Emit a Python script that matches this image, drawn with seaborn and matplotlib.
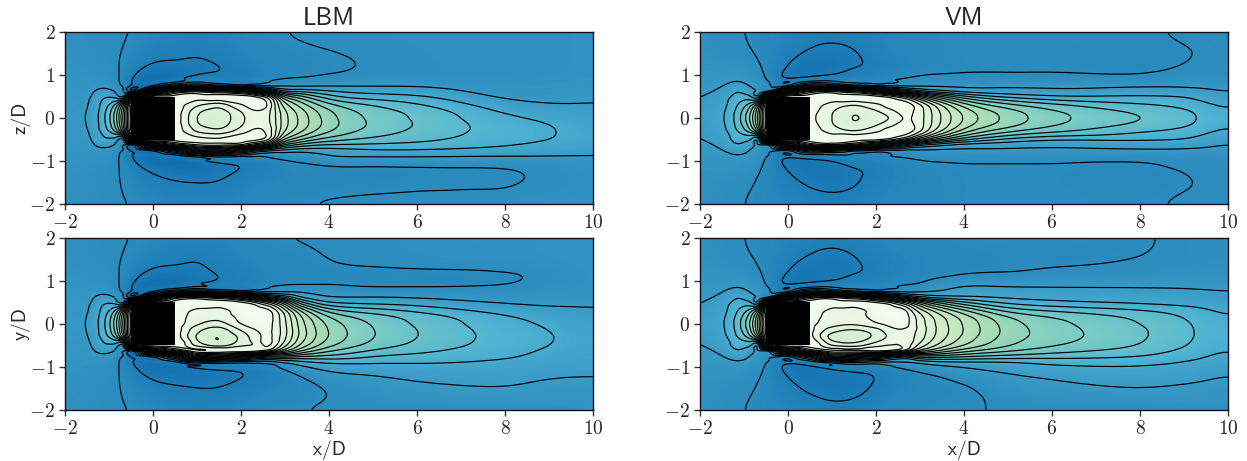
import numpy as np
import matplotlib
matplotlib.use('Agg')
import matplotlib.pyplot as plt
import matplotlib.tri as mtri
import seaborn as sns

# stations and rows the values were read at
x_front = [-2, -1.5, -1.15, -0.85, -0.65, -0.5]
x_wake = [0, 0.5, 1, 1.5, 2, 2.3, 2.6, 3, 3.5, 4, 5, 6, 8, 9, 10]
z_half = [2, 1.4, 1.1, 0.9, 0.75, 0.62, 0.5, 0.3, 0.15, 0]
body = [-0.5, 0.5]
tick_x = [-2, 0, 2, 4, 6, 8, 10]
tick_z = [-2, -1, 0, 1, 2]
levels = np.arange(0.07, 1.5, 0.07)

# upstream columns, mirrored about the centreline
lbm_front = [
    [1.03, 1.02, 1.015, 1.01, 1.005, 1.0, 1.0, 0.998, 0.996, 0.995],
    [1.035, 1.03, 1.02, 1.015, 1.01, 1.005, 1.0, 0.99, 0.983, 0.98],
    [1.04, 1.035, 1.03, 1.02, 0.985, 0.955, 0.925, 0.89, 0.875, 0.87],
    [1.045, 1.045, 1.04, 1.03, 1.01, 0.985, 0.93, 0.75, 0.68, 0.66],
    [1.045, 1.05, 1.05, 1.055, 1.055, 1.05, 0.98, 0.46, 0.38, 0.36],
    [1.05, 1.07, 1.09, 1.12, 1.16, 1.18, 0.3, 0.05, 0.04, 0.04],
]
vm_front = [
    [1.03, 1.02, 1.01, 1.0, 0.995, 0.99, 0.985, 0.98, 0.975, 0.972],
    [1.04, 1.03, 1.01, 1.0, 0.985, 0.97, 0.955, 0.935, 0.925, 0.92],
    [1.045, 1.035, 1.01, 0.985, 0.95, 0.915, 0.88, 0.84, 0.815, 0.805],
    [1.055, 1.04, 1.02, 1.0, 0.985, 0.96, 0.9, 0.72, 0.64, 0.61],
    [1.06, 1.055, 1.04, 1.02, 1.0, 0.985, 0.95, 0.5, 0.37, 0.35],
    [1.065, 1.06, 1.055, 1.04, 1.03, 1.02, 0.3, 0.05, 0.04, 0.04],
]

# wake columns, top of the panel to the bottom
lbm_z = [
    [1.065, 1.11, 1.15, 1.2, 1.12, 0.6, 0.03, 0.02, 0.02, 0.02, 0.02, 0.02, 0.03, 0.5, 1.1, 1.2, 1.15, 1.11, 1.065],
    [1.08, 1.115, 1.14, 1.19, 0.95, 0.25, 0.03, 0.03, 0.03, 0.03, 0.03, 0.03, 0.03, 0.25, 0.85, 1.2, 1.17, 1.125, 1.08],
    [1.085, 1.122, 1.13, 1.1, 0.88, 0.15, 0.05, 0.13, 0.19, 0.21, 0.2, 0.15, 0.05, 0.12, 0.55, 1.12, 1.18, 1.13, 1.085],
    [1.08, 1.11, 1.125, 1.09, 0.96, 0.22, 0.03, 0.18, 0.24, 0.25, 0.24, 0.19, 0.06, 0.1, 0.5, 1.05, 1.13, 1.125, 1.08],
    [1.07, 1.085, 1.105, 1.115, 1.02, 0.3, 0.03, 0.08, 0.14, 0.16, 0.15, 0.11, 0.03, 0.12, 0.65, 1.07, 1.12, 1.1, 1.07],
    [1.06, 1.08, 1.09, 1.085, 1.0, 0.45, 0.06, 0.03, 0.08, 0.1, 0.09, 0.06, 0.04, 0.25, 0.8, 1.06, 1.11, 1.09, 1.06],
    [1.06, 1.07, 1.08, 1.07, 0.99, 0.6, 0.18, 0.07, 0.11, 0.12, 0.11, 0.09, 0.12, 0.38, 0.88, 1.05, 1.1, 1.085, 1.06],
    [1.05, 1.065, 1.07, 1.055, 0.985, 0.85, 0.6, 0.4, 0.345, 0.33, 0.33, 0.36, 0.52, 0.72, 0.93, 1.04, 1.06, 1.075, 1.055],
    [1.04, 1.06, 1.06, 1.05, 0.99, 0.85, 0.72, 0.57, 0.51, 0.49, 0.49, 0.53, 0.68, 0.83, 0.96, 1.03, 1.055, 1.07, 1.05],
    [1.035, 1.055, 1.055, 1.04, 0.985, 0.91, 0.83, 0.69, 0.63, 0.61, 0.605, 0.63, 0.74, 0.84, 0.94, 0.98, 1.055, 1.065, 1.045],
    [1.035, 1.045, 1.045, 1.03, 0.985, 0.935, 0.875, 0.775, 0.735, 0.72, 0.715, 0.73, 0.79, 0.85, 0.915, 0.98, 1.052, 1.062, 1.04],
    [1.03, 1.035, 1.035, 1.03, 0.985, 0.945, 0.9, 0.83, 0.79, 0.78, 0.775, 0.785, 0.82, 0.86, 0.915, 0.98, 1.05, 1.06, 1.035],
    [1.03, 1.03, 1.03, 1.025, 1.02, 1.01, 0.99, 0.95, 0.92, 0.895, 0.88, 0.875, 0.885, 0.905, 0.93, 0.985, 1.045, 1.058, 1.03],
    [1.025, 1.025, 1.025, 1.02, 1.015, 1.01, 1.0, 0.975, 0.95, 0.925, 0.91, 0.905, 0.91, 0.925, 0.945, 0.985, 1.03, 1.04, 1.025],
    [1.02, 1.02, 1.02, 1.015, 1.01, 1.005, 0.992, 0.975, 0.965, 0.95, 0.94, 0.935, 0.935, 0.945, 0.96, 0.985, 1.02, 1.025, 1.02],
]
lbm_y = [
    [1.065, 1.11, 1.155, 1.2, 1.12, 0.6, 0.03, 0.02, 0.02, 0.02, 0.02, 0.02, 0.03, 0.5, 1.1, 1.18, 1.15, 1.11, 1.065],
    [1.08, 1.115, 1.15, 1.2, 0.95, 0.2, 0.03, 0.03, 0.03, 0.03, 0.03, 0.03, 0.03, 0.25, 0.85, 1.16, 1.16, 1.12, 1.08],
    [1.09, 1.125, 1.135, 1.15, 0.85, 0.12, 0.03, 0.09, 0.11, 0.13, 0.19, 0.22, 0.16, 0.06, 0.4, 1.05, 1.15, 1.125, 1.09],
    [1.08, 1.105, 1.12, 1.1, 0.95, 0.2, 0.03, 0.12, 0.12, 0.17, 0.25, 0.28, 0.24, 0.05, 0.45, 1.03, 1.13, 1.125, 1.08],
    [1.07, 1.09, 1.105, 1.11, 1.01, 0.35, 0.05, 0.03, 0.05, 0.07, 0.14, 0.19, 0.16, 0.06, 0.55, 1.05, 1.12, 1.11, 1.07],
    [1.06, 1.08, 1.09, 1.08, 1.0, 0.5, 0.12, 0.02, 0.02, 0.03, 0.08, 0.11, 0.14, 0.08, 0.65, 1.04, 1.11, 1.1, 1.06],
    [1.055, 1.075, 1.085, 1.07, 0.99, 0.65, 0.25, 0.04, 0.03, 0.04, 0.05, 0.05, 0.06, 0.15, 0.72, 1.03, 1.095, 1.09, 1.055],
    [1.05, 1.07, 1.075, 1.06, 0.98, 0.78, 0.48, 0.24, 0.2, 0.19, 0.18, 0.19, 0.26, 0.4, 0.72, 0.98, 1.065, 1.075, 1.05],
    [1.045, 1.065, 1.07, 1.055, 0.995, 0.97, 0.86, 0.6, 0.5, 0.475, 0.46, 0.46, 0.52, 0.62, 0.78, 0.92, 1.02, 1.06, 1.05],
    [1.04, 1.052, 1.065, 1.055, 0.995, 0.98, 0.91, 0.74, 0.64, 0.59, 0.575, 0.575, 0.62, 0.69, 0.78, 0.9, 0.975, 1.04, 1.045],
    [1.035, 1.045, 1.065, 1.06, 1.03, 0.975, 0.93, 0.8, 0.73, 0.71, 0.7, 0.7, 0.73, 0.78, 0.84, 0.905, 0.96, 1.01, 1.04],
    [1.03, 1.04, 1.065, 1.06, 1.03, 0.985, 0.945, 0.85, 0.795, 0.78, 0.77, 0.77, 0.79, 0.82, 0.86, 0.905, 0.955, 0.985, 1.04],
    [1.025, 1.03, 1.06, 1.05, 1.03, 1.01, 0.985, 0.935, 0.9, 0.885, 0.875, 0.87, 0.875, 0.885, 0.9, 0.925, 0.955, 0.975, 1.03],
    [1.02, 1.025, 1.04, 1.032, 1.02, 1.01, 0.995, 0.96, 0.935, 0.92, 0.91, 0.905, 0.91, 0.92, 0.93, 0.945, 0.965, 0.99, 1.025],
    [1.02, 1.02, 1.02, 1.02, 1.01, 1.0, 0.99, 0.975, 0.965, 0.955, 0.95, 0.945, 0.945, 0.95, 0.955, 0.96, 0.97, 0.995, 1.02],
]
# VM in the z plane is symmetric, so only its upper half is kept
vm_z_half = [
    [1.08, 1.11, 1.135, 1.15, 1.05, 0.5, 0.02, 0.02, 0.02, 0.02],
    [1.095, 1.135, 1.16, 1.125, 0.8, 0.2, 0.02, 0.03, 0.04, 0.05],
    [1.1, 1.145, 1.14, 1.09, 0.85, 0.12, 0.04, 0.1, 0.135, 0.14],
    [1.095, 1.13, 1.11, 1.07, 0.95, 0.22, 0.03, 0.14, 0.2, 0.213],
    [1.08, 1.1, 1.11, 1.06, 1.0, 0.4, 0.04, 0.09, 0.15, 0.17],
    [1.075, 1.085, 1.09, 1.055, 1.0, 0.55, 0.09, 0.04, 0.1, 0.14],
    [1.07, 1.08, 1.08, 1.05, 0.99, 0.68, 0.2, 0.02, 0.05, 0.07],
    [1.065, 1.07, 1.06, 1.04, 0.99, 0.82, 0.42, 0.12, 0.1, 0.1],
    [1.06, 1.06, 1.055, 1.04, 0.99, 0.9, 0.65, 0.37, 0.31, 0.3],
    [1.055, 1.055, 1.052, 1.04, 0.99, 0.94, 0.76, 0.54, 0.46, 0.44],
    [1.05, 1.055, 1.052, 1.04, 0.99, 0.955, 0.86, 0.68, 0.6, 0.585],
    [1.052, 1.055, 1.052, 1.04, 0.99, 0.97, 0.9, 0.75, 0.69, 0.675],
    [1.055, 1.06, 1.055, 1.04, 0.985, 0.955, 0.9, 0.83, 0.785, 0.77],
    [1.045, 1.052, 1.045, 1.03, 0.985, 0.96, 0.91, 0.86, 0.82, 0.81],
    [1.04, 1.04, 1.035, 1.03, 1.0, 0.985, 0.975, 0.94, 0.925, 0.92],
]
vm_y = [
    [1.08, 1.11, 1.135, 1.15, 1.05, 0.5, 0.02, 0.02, 0.02, 0.02, 0.02, 0.02, 0.02, 0.5, 1.05, 1.15, 1.135, 1.11, 1.08],
    [1.095, 1.135, 1.155, 1.12, 0.8, 0.2, 0.02, 0.03, 0.04, 0.05, 0.05, 0.05, 0.03, 0.2, 0.8, 1.12, 1.155, 1.135, 1.095],
    [1.105, 1.145, 1.14, 1.09, 0.85, 0.12, 0.05, 0.09, 0.1, 0.11, 0.18, 0.24, 0.14, 0.06, 0.45, 1.05, 1.135, 1.145, 1.105],
    [1.095, 1.13, 1.11, 1.07, 0.95, 0.22, 0.04, 0.12, 0.1, 0.13, 0.22, 0.26, 0.17, 0.05, 0.5, 1.0, 1.12, 1.14, 1.1],
    [1.08, 1.1, 1.11, 1.07, 1.0, 0.4, 0.06, 0.04, 0.05, 0.08, 0.17, 0.19, 0.1, 0.03, 0.6, 1.02, 1.11, 1.115, 1.08],
    [1.075, 1.09, 1.09, 1.06, 0.99, 0.55, 0.12, 0.02, 0.03, 0.05, 0.1, 0.13, 0.07, 0.05, 0.72, 1.0, 1.09, 1.09, 1.07],
    [1.07, 1.085, 1.08, 1.055, 0.99, 0.68, 0.25, 0.03, 0.02, 0.03, 0.08, 0.1, 0.08, 0.12, 0.8, 0.99, 1.07, 1.08, 1.07],
    [1.065, 1.08, 1.07, 1.05, 0.985, 0.82, 0.48, 0.24, 0.18, 0.17, 0.16, 0.17, 0.24, 0.38, 0.72, 0.97, 1.05, 1.07, 1.06],
    [1.06, 1.07, 1.06, 1.0, 0.97, 0.9, 0.68, 0.42, 0.35, 0.335, 0.33, 0.34, 0.4, 0.52, 0.72, 0.93, 1.03, 1.06, 1.055],
    [1.055, 1.065, 1.045, 0.98, 0.95, 0.89, 0.76, 0.54, 0.45, 0.43, 0.425, 0.44, 0.5, 0.6, 0.76, 0.93, 1.0, 1.052, 1.05],
    [1.05, 1.06, 1.04, 0.985, 0.96, 0.92, 0.86, 0.72, 0.63, 0.6, 0.59, 0.595, 0.63, 0.69, 0.79, 0.92, 0.97, 1.01, 1.05],
    [1.05, 1.055, 1.03, 0.985, 0.965, 0.935, 0.89, 0.77, 0.7, 0.675, 0.665, 0.665, 0.695, 0.74, 0.81, 0.89, 0.955, 0.99, 1.048],
    [1.055, 1.045, 1.025, 0.985, 0.97, 0.95, 0.92, 0.83, 0.785, 0.77, 0.76, 0.76, 0.775, 0.8, 0.84, 0.89, 0.935, 0.97, 1.04],
    [1.04, 1.035, 1.02, 0.985, 0.975, 0.955, 0.935, 0.87, 0.84, 0.825, 0.82, 0.82, 0.835, 0.855, 0.88, 0.915, 0.95, 0.98, 1.035],
    [1.035, 1.03, 1.015, 0.99, 0.98, 0.97, 0.96, 0.935, 0.925, 0.915, 0.91, 0.91, 0.915, 0.925, 0.94, 0.955, 0.975, 0.995, 1.03],
]

sns.set_style('ticks')
plt.rcParams['font.family'] = ['cmss10', 'DejaVu Sans']
plt.rcParams['mathtext.fontset'] = 'cm'
plt.rcParams['axes.unicode_minus'] = False
cmap = sns.color_palette('GnBu', as_cmap=True)


def mirror(half):
    half = np.array(half)
    return np.hstack([half, half[:, -2::-1]])


def blur_axis(a, sigma, axis):
    # gaussian along one axis, sigma in grid cells, edges reflected
    r = int(3 * sigma) + 1
    k = np.exp(-0.5 * (np.arange(-r, r + 1) / sigma) ** 2)
    k = k / k.sum()
    return np.apply_along_axis(lambda m: np.convolve(np.pad(m, r, mode='reflect'), k, mode='valid'), axis, a)


def blur(a, sx, sz, dx, dz):
    return blur_axis(blur_axis(a, sx / dx, 1), sz / dz, 0)


def draw_panel(ax, front, wake):
    z = np.r_[z_half, -np.array(z_half[-2::-1])]
    field = np.vstack([mirror(front), wake])
    xx, zz = np.meshgrid(x_front + x_wake, z, indexing='ij')
    tri = mtri.Triangulation(xx.ravel(), zz.ravel())
    smooth = mtri.CubicTriInterpolator(tri, field.ravel(), kind='geom')
    xs = np.linspace(-2, 10, 720)
    zs = np.linspace(-2, 2, 320)
    dx, dz = xs[1] - xs[0], zs[1] - zs[0]
    xf, zf = np.meshgrid(xs, zs)
    raw = np.ma.filled(smooth(xf, zf), 0.0)
    # the table is coarse: soften it most where the field is gentle
    speed = blur(raw, 0.05, 0.03, dx, dz)
    far = blur(raw, 0.2, 0.1, dx, dz)
    along = blur(raw, 0.35, 0.04, dx, dz)
    wide = blur(raw, 0.3, 0.2, dx, dz)
    w_wake = np.clip((xf - 2.8) / 0.8, 0, 1)
    w_far = np.clip((wide - 0.93) / 0.08, 0, 1)
    speed = (1 - w_wake) * speed + w_wake * along
    speed = (1 - w_far) * speed + w_far * far
    ax.pcolormesh(xf, zf, speed, cmap=cmap, vmin=0, vmax=1.4, shading='gouraud', rasterized=True)
    ax.contour(xf, zf, speed, levels=levels, colors='black', linewidths=0.85)
    ax.fill_between(body, body[0], body[1], color='black', lw=0, zorder=3)
    ax.set_xlim(-2, 10)
    ax.set_ylim(-2, 2)
    ax.set_xticks(tick_x)
    ax.set_yticks(tick_z)
    ax.set_xticklabels([f'${t}$' for t in tick_x], fontsize=14)
    ax.set_yticklabels([f'${t}$' for t in tick_z], fontsize=14)
    ax.tick_params(length=4, width=1, color='#333333', pad=3)
    for spine in ax.spines.values():
        spine.set_linewidth(1.0)
        spine.set_color('#111111')


fig = plt.figure(figsize=(12.47, 4.61), dpi=100)
left = [65 / 1247, 700 / 1247]
bottom = [1 - 204 / 461, 1 - 410 / 461]
w, h = 528 / 1247, 172 / 461
axes = [[fig.add_axes([l, b, w, h]) for l in left] for b in bottom]

draw_panel(axes[0][0], lbm_front, lbm_z)
draw_panel(axes[0][1], vm_front, mirror(vm_z_half))
draw_panel(axes[1][0], lbm_front, lbm_y)
draw_panel(axes[1][1], vm_front, vm_y)

axes[0][0].set_title('LBM', fontsize=18, pad=5)
axes[0][1].set_title('VM', fontsize=18, pad=5)
axes[0][0].set_ylabel('z/D', fontsize=14, labelpad=-1)
axes[1][0].set_ylabel('y/D', fontsize=14, labelpad=-1)
axes[1][0].set_xlabel('x/D', fontsize=14, labelpad=2)
axes[1][1].set_xlabel('x/D', fontsize=14, labelpad=2)

fig.savefig('out.png', dpi=100)
